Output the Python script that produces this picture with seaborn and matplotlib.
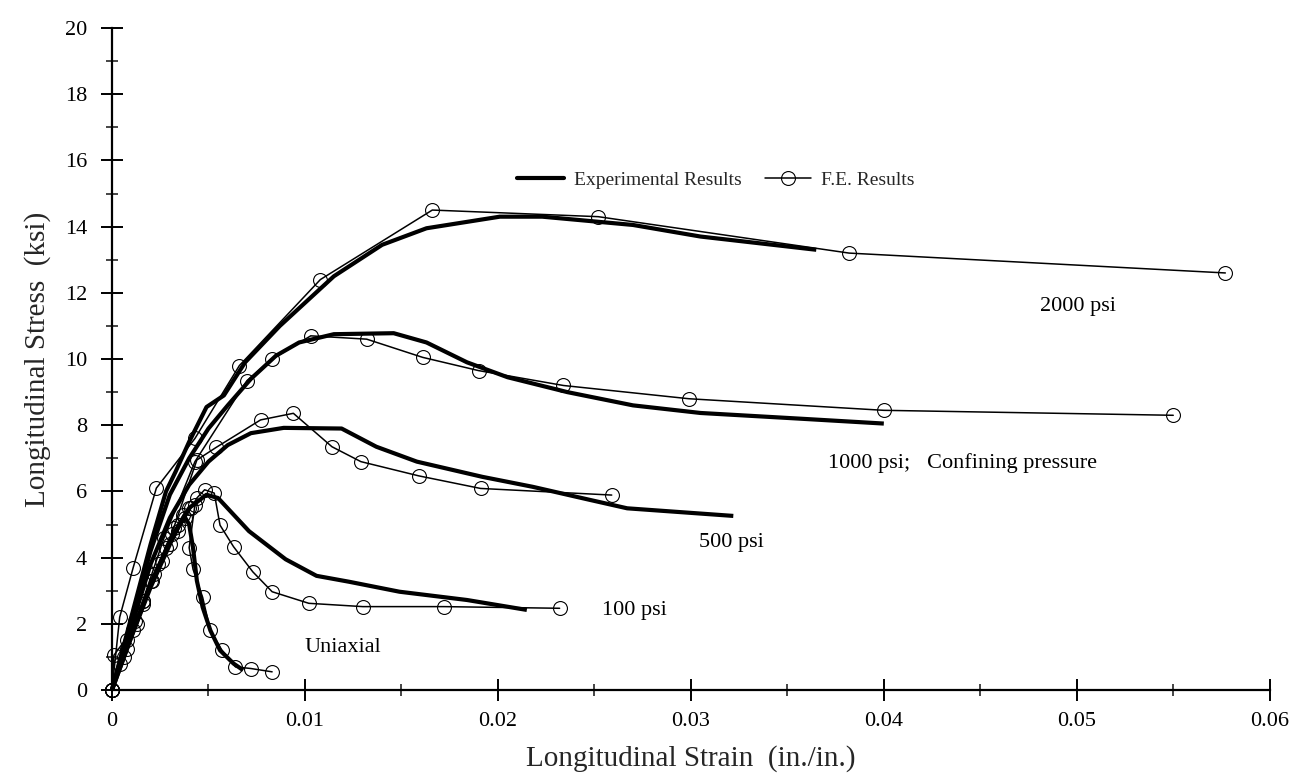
import matplotlib
matplotlib.use("Agg")
import matplotlib.pyplot as plt
from matplotlib.lines import Line2D
from matplotlib.ticker import MultipleLocator, FixedLocator, FixedFormatter
import seaborn as sns
import pandas as pd

# ---------------- data ----------------
x_ticks = [0, 0.01, 0.02, 0.03, 0.04, 0.05, 0.06]
x_tick_labels = ["0", "0.01", "0.02", "0.03", "0.04", "0.05", "0.06"]
y_ticks = [0, 2, 4, 6, 8, 10, 12, 14, 16, 18, 20]

# Experimental results (thick lines)
exp_uni_x = [0, 0.001, 0.002, 0.003, 0.0035, 0.0038, 0.0040, 0.0042, 0.0044, 0.0047, 0.0051, 0.0056, 0.0063, 0.0068]
exp_uni_y = [0, 1.6, 3.1, 4.4, 5.0, 5.2, 5.0, 4.3, 3.3, 2.5, 1.8, 1.2, 0.8, 0.6]

exp_100_x = [0, 0.001, 0.002, 0.003, 0.004, 0.0049, 0.0055, 0.0071, 0.0090, 0.0106, 0.0123, 0.0149, 0.0184, 0.0215]
exp_100_y = [0, 1.6, 3.2, 4.5, 5.5, 5.9, 5.8, 4.8, 3.95, 3.45, 3.27, 2.97, 2.72, 2.42]

exp_500_x = [0, 0.001, 0.002, 0.003, 0.004, 0.005, 0.006, 0.0072, 0.0089, 0.0119, 0.0137, 0.0158, 0.0192, 0.0218, 0.0248, 0.0267, 0.0322]
exp_500_y = [0, 1.9, 3.8, 5.2, 6.2, 6.9, 7.4, 7.76, 7.92, 7.9, 7.35, 6.9, 6.44, 6.14, 5.74, 5.49, 5.26]

exp_1000_x = [0, 0.001, 0.002, 0.003, 0.004, 0.005, 0.006, 0.0072, 0.0085, 0.0097, 0.0115, 0.0146, 0.0163, 0.0184, 0.0205, 0.0236, 0.0270, 0.0305, 0.0356, 0.0400]
exp_1000_y = [0, 2.1, 4.2, 5.9, 7.0, 7.9, 8.6, 9.4, 10.1, 10.5, 10.75, 10.78, 10.5, 9.9, 9.45, 9.0, 8.6, 8.37, 8.2, 8.05]

exp_2000_x = [0, 0.001, 0.002, 0.0028, 0.0033, 0.0040, 0.0049, 0.0058, 0.0069, 0.0087, 0.0115, 0.0140, 0.0163, 0.0201, 0.0223, 0.0270, 0.0305, 0.0365]
exp_2000_y = [0, 2.2, 4.4, 6.0, 6.6, 7.5, 8.55, 8.9, 9.9, 11.0, 12.5, 13.45, 13.95, 14.3, 14.3, 14.05, 13.7, 13.3]

# F.E. results (thin lines with open circles)
fe_uni_x = [0, 0.0004, 0.0008, 0.0012, 0.0016, 0.0020, 0.0024, 0.0028, 0.0031, 0.0034, 0.0037, 0.0040, 0.0043,
            0.0040, 0.0042, 0.0047, 0.0051, 0.0057, 0.0064, 0.0072, 0.0083]
fe_uni_y = [0, 0.8, 1.5, 2.1, 2.7, 3.3, 3.8, 4.3, 4.7, 5.0, 5.3, 5.5, 5.6,
            4.3, 3.65, 2.8, 1.8, 1.2, 0.7, 0.65, 0.55]

fe_100_x = [0, 0.0006, 0.0011, 0.0016, 0.0021, 0.0026, 0.0030, 0.0034, 0.0038, 0.0041, 0.0044, 0.0048, 0.0053,
            0.0056, 0.0063, 0.0073, 0.0083, 0.0102, 0.0130, 0.0172, 0.0232]
fe_100_y = [0, 1.0, 1.8, 2.6, 3.3, 3.9, 4.4, 4.8, 5.2, 5.5, 5.8, 6.05, 5.95,
            4.98, 4.33, 3.57, 2.97, 2.62, 2.52, 2.52, 2.47]

fe_500_x = [0, 0.0001, 0.0013, 0.0022, 0.0032, 0.0044, 0.0054, 0.0077, 0.0094, 0.0114, 0.0129, 0.0159, 0.0191, 0.0259]
fe_500_y = [0, 1.05, 2.0, 3.5, 4.9, 6.95, 7.33, 8.16, 8.36, 7.35, 6.9, 6.47, 6.09, 5.89]

fe_1000_x = [0, 0.0008, 0.0016, 0.0027, 0.0043, 0.0070, 0.0083, 0.0103, 0.0132, 0.0161, 0.0190, 0.0234, 0.0299, 0.0400, 0.0550]
fe_1000_y = [0, 1.25, 2.7, 4.6, 6.9, 9.35, 10.0, 10.7, 10.6, 10.05, 9.65, 9.2, 8.8, 8.45, 8.3]

fe_2000_x = [0, 0.0004, 0.0011, 0.0023, 0.0043, 0.0066, 0.0108, 0.0166, 0.0252, 0.0382, 0.0577]
fe_2000_y = [0, 2.2, 3.7, 6.1, 7.6, 9.8, 12.4, 14.5, 14.3, 13.2, 12.6]

curve_labels = ["2000 psi", "1000 psi;   Confining pressure", "500 psi", "100 psi", "Uniaxial"]
label_x = [0.0481, 0.0371, 0.0304, 0.0254, 0.0100]
label_y = [11.6, 6.85, 4.45, 2.4, 1.3]

legend_labels = ["Experimental Results", "F.E. Results"]

# ---------------- plot ----------------
sns.set_style("ticks")
plt.rcParams["font.family"] = ["Liberation Serif", "DejaVu Serif"]

fig = plt.figure(figsize=(12.93, 7.82), dpi=100)
ax = fig.add_axes([0.0866, 0.1176, 0.8954, 0.8466])

exp_series = [(exp_uni_x, exp_uni_y), (exp_100_x, exp_100_y), (exp_500_x, exp_500_y),
              (exp_1000_x, exp_1000_y), (exp_2000_x, exp_2000_y)]
fe_series = [(fe_uni_x, fe_uni_y), (fe_100_x, fe_100_y), (fe_500_x, fe_500_y),
             (fe_1000_x, fe_1000_y), (fe_2000_x, fe_2000_y)]

for xs, ys in exp_series:
    df = pd.DataFrame({"strain": xs, "stress": ys})
    sns.lineplot(data=df, x="strain", y="stress", sort=False, estimator=None, ax=ax,
                 color="black", linewidth=3.0, solid_capstyle="butt", clip_on=False, zorder=3)

for xs, ys in fe_series:
    df = pd.DataFrame({"strain": xs, "stress": ys})
    sns.lineplot(data=df, x="strain", y="stress", sort=False, estimator=None, ax=ax,
                 color="black", linewidth=1.1, marker="o", markersize=10,
                 markerfacecolor="none", markeredgecolor="black", markeredgewidth=0.8,
                 clip_on=False, zorder=4)

ax.set_xlim(0, 0.06)
ax.set_ylim(0, 20)
ax.xaxis.set_major_locator(FixedLocator(x_ticks))
ax.xaxis.set_major_formatter(FixedFormatter(x_tick_labels))
ax.xaxis.set_minor_locator(MultipleLocator(0.005))
ax.yaxis.set_major_locator(FixedLocator(y_ticks))
ax.yaxis.set_minor_locator(MultipleLocator(1))

sns.despine(ax=ax, top=True, right=True)
for s in ["left", "bottom"]:
    ax.spines[s].set_linewidth(1.6)
    ax.spines[s].set_color("black")

ax.tick_params(axis="both", which="major", direction="inout", length=16, width=1.4,
               labelsize=16, colors="black", pad=8)
ax.tick_params(axis="both", which="minor", direction="inout", length=9, width=1.2)
ax.tick_params(axis="y", which="major", pad=10)

ax.set_xlabel("Longitudinal Strain  (in./in.)", fontsize=21, labelpad=10)
ax.set_ylabel("Longitudinal Stress  (ksi)", fontsize=21, labelpad=10)

for t, tx, ty in zip(curve_labels, label_x, label_y):
    ax.text(tx, ty, t, fontsize=16, ha="left", va="center", color="black")

handles = [Line2D([], [], color="black", linewidth=3.0),
           Line2D([], [], color="black", linewidth=1.1, marker="o", markersize=10,
                  markerfacecolor="none", markeredgewidth=0.8)]
ax.legend(handles, legend_labels, loc="center left", bbox_to_anchor=(0.335, 0.77),
          ncol=2, frameon=False, fontsize=14, handlelength=2.4, columnspacing=1.2,
          handletextpad=0.5)

fig.savefig("out.png", dpi=100)
